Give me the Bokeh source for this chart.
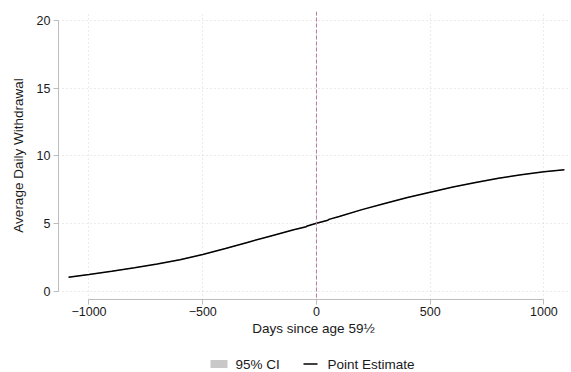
from bokeh.plotting import figure
from bokeh.layouts import column
from bokeh.models import Range1d, FixedTicker, Span, ColumnDataSource
from bokeh.core.properties import value
from bokeh.embed import file_html
from bokeh.resources import INLINE

# Days relative to age 59½ and the fitted average daily withdrawal
days = [-1090, -1000, -900, -800, -700, -600, -500, -400, -300, -200, -100,
        -45, -40, 0, 50, 55, 100, 200, 300, 400, 500, 600, 700, 800, 900,
        1000, 1090]
estimate = [1.06, 1.25, 1.49, 1.75, 2.03, 2.35, 2.73, 3.17, 3.64, 4.10, 4.56,
            4.78, 4.84, 5.04, 5.26, 5.32, 5.53, 6.04, 6.50, 6.93, 7.33, 7.71,
            8.05, 8.35, 8.61, 8.83, 8.98]
ci_half = 0.04
ci_low = [v - ci_half for v in estimate]
ci_high = [v + ci_half for v in estimate]

x_ticks = [-1000, -500, 0, 500, 1000]
x_labels = {-1000: "\u22121000", -500: "\u2212500", 0: "0", 500: "500", 1000: "1000"}
y_ticks = [0, 5, 10, 15, 20]
legend_labels = ["95% CI", "Point Estimate"]

FONT = "Liberation Sans"
TITLE_FS = "13.5px"
TICK_FS = "12.5px"
INK = "#1a1a1a"
CI_GRAY = "#c8c8c8"

W, H_MAIN, H_KEY = 571, 346, 26
LEFT, RIGHT = 58, 3

src = ColumnDataSource(dict(x=days, y=estimate, lo=ci_low, hi=ci_high))

p = figure(width=W, height=H_MAIN, output_backend="svg", toolbar_location=None,
           x_range=Range1d(-1134, 1108), y_range=Range1d(-0.59, 20.66),
           min_border_left=LEFT, min_border_right=RIGHT, min_border_top=11,
           min_border_bottom=47)
p.outline_line_color = None
p.background_fill_color = "white"
p.border_fill_color = "white"

p.varea(x="x", y1="lo", y2="hi", source=src, fill_color=CI_GRAY)
p.line(x="x", y="y", source=src, line_color="black", line_width=1.5)

p.add_layout(Span(location=0, dimension="height", line_color="#b8769e",
                  line_dash="4 2", line_width=1))

# Axes
for ax in (p.xaxis[0], p.yaxis[0]):
    ax.axis_line_color = "#bdbdbd"
    ax.major_tick_line_color = "#bdbdbd"
    ax.major_tick_out = 5
    ax.major_tick_in = 0
    ax.minor_tick_line_color = None
    ax.major_label_text_font = FONT
    ax.major_label_text_font_size = TICK_FS
    ax.major_label_text_color = INK
    ax.axis_label_text_font = FONT
    ax.axis_label_text_font_size = TITLE_FS
    ax.axis_label_text_font_style = "normal"
    ax.axis_label_text_color = INK

p.xaxis.ticker = FixedTicker(ticks=x_ticks)
p.xaxis.major_label_overrides = x_labels
p.xaxis.bounds = (-1000, 1000)
p.xaxis.major_label_standoff = 2
p.xaxis.axis_label = "Days since age 59\u00bd"
p.xaxis.axis_label_standoff = 2

p.yaxis.ticker = FixedTicker(ticks=y_ticks)
p.yaxis.bounds = (0, 20)
p.yaxis.major_label_orientation = "horizontal"
p.yaxis.major_label_standoff = 3
p.yaxis.axis_label = "Average Daily Withdrawal"
p.yaxis.axis_label_standoff = 8

# Dotted grid
for g in (p.xgrid[0], p.ygrid[0]):
    g.grid_line_color = "#d6d6d6"
    g.grid_line_dash = "1 3"
    g.grid_line_width = 1

# Legend strip beneath the plot; the column aligns its frame with the main
# plot's frame, so the x range is given in page pixels over that frame.
lp = figure(width=W, height=H_KEY, output_backend="svg", toolbar_location=None,
            x_range=Range1d(LEFT, W - RIGHT), y_range=Range1d(0, H_KEY),
            x_axis_type=None, y_axis_type=None,
            min_border_left=LEFT, min_border_right=RIGHT,
            min_border_top=0, min_border_bottom=0)
lp.outline_line_color = None
lp.xgrid.visible = False
lp.ygrid.visible = False
lp.quad(left=[210], right=[227], bottom=[4.5], top=[12.5],
        fill_color=CI_GRAY, line_color=None)
lp.segment(x0=[303], y0=[8.5], x1=[317], y1=[8.5],
           line_color="black", line_width=1.5)
lp.text(x=[235, 327], y=[8.5, 8.5], text=legend_labels,
        text_font=value(FONT), text_font_size=TITLE_FS, text_color=INK,
        text_baseline="middle", text_align="left")

open("out.html", "w").write(file_html(column(p, lp), INLINE))
